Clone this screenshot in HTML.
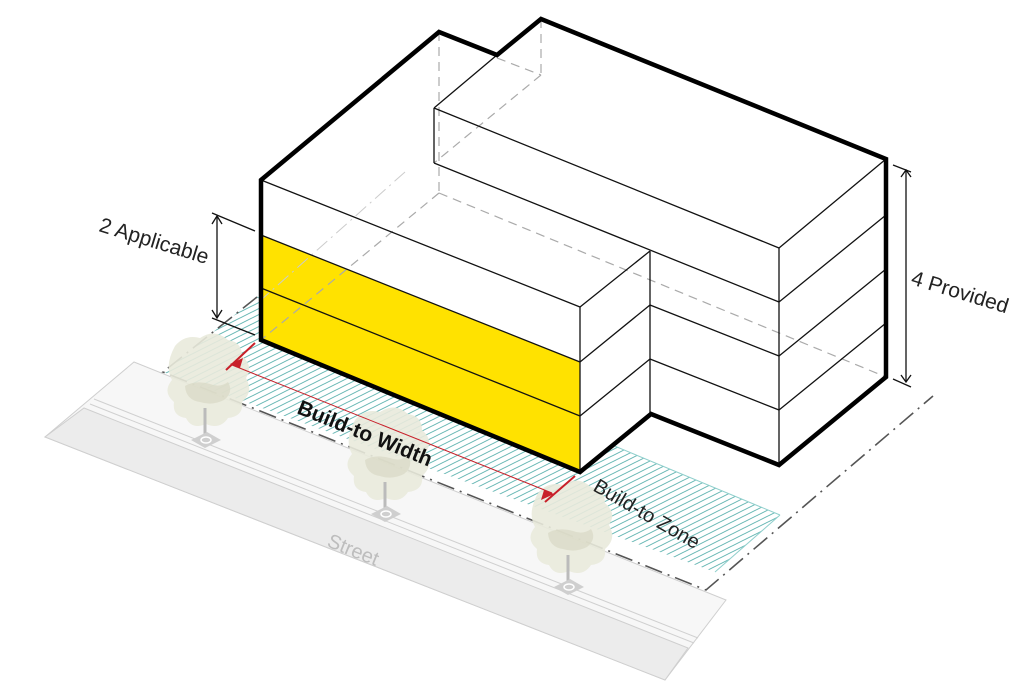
<!DOCTYPE html>
<html><head><meta charset="utf-8"><style>
html,body{margin:0;padding:0;background:#fff;width:1027px;height:690px;overflow:hidden}
svg{display:block}
text{font-family:"Liberation Sans Narrow","Liberation Sans",sans-serif}
</style></head><body>
<svg width="1027" height="690" viewBox="0 0 1027 690" xmlns="http://www.w3.org/2000/svg">
<defs>
<pattern id="h" width="12" height="6" patternUnits="userSpaceOnUse">
<rect width="12" height="6" fill="#fff"/>
<path d="M-1,6.5 L13,-0.5 M-2,1 L2,-1 M10,7 L14,5" stroke="#5fb3b0" stroke-width="1" fill="none"/>
</pattern>
<g id="tree">
<path d="M-30,-72 q10,-12 25,-8 q15,-10 28,2 q14,2 14,16 q12,10 4,22 q8,14 -4,24 q2,14 -14,16 q-8,12 -22,6 q-14,6 -20,-6 q-14,-2 -12,-16 q-12,-10 -2,-22 q-8,-14 3,-34z" fill="#e9eadc" opacity="0.9"/>
<path d="M-20,-32 q10,-6 25,-2 q10,4 18,-2 q6,10 -4,18 q-12,6 -24,2 q-14,-2 -15,-16z" fill="#d8d8c4" opacity="0.7"/>
<line x1="0" y1="-10" x2="0" y2="22" stroke="#bbb" stroke-width="3"/>
<polygon points="-14,22 2,14 16,22 0,30" fill="#cfcfcf"/>
<ellipse cx="1" cy="22" rx="5" ry="3" fill="none" stroke="#fff" stroke-width="1.5"/>
</g>
</defs>

<!-- street / sidewalk -->
<polygon points="134,362 726,600 665,680 45,437" fill="#f7f7f7" stroke="#cfcfcf" stroke-width="1"/>
<polygon points="84,408 688,648 665,680 45,437" fill="#ececec" stroke="#cfcfcf" stroke-width="1"/>
<line x1="90" y1="404" x2="694" y2="643" stroke="#d0d0d0" stroke-width="1"/>
<line x1="94" y1="399" x2="698" y2="638" stroke="#d0d0d0" stroke-width="1"/>
<text x="0" y="0" font-size="20" fill="#bdbdbd" transform="translate(326,546) rotate(22)">Street</text>

<!-- build-to zone -->
<polygon points="257,297 780,515 715,572 163,372" fill="url(#h)" opacity="0.95"/>
<line x1="257" y1="297" x2="780" y2="515" stroke="#8fcfcc" stroke-width="1"/>
<line x1="780" y1="515" x2="715" y2="572" stroke="#8fcfcc" stroke-width="1"/>

<!-- property lines dash-dot -->
<polyline points="257,297 163,372 706,590 933,396" fill="none" stroke="#555" stroke-width="1.6" stroke-dasharray="18,6,2,6"/>

<!-- trees -->
<use href="#tree" x="205" y="418"/>
<use href="#tree" x="385" y="492"/>
<use href="#tree" x="568" y="565"/>

<!-- building faces -->
<polygon points="261,235 580,362 580,472 261,340" fill="#ffe200"/>
<polygon points="261,180 580,307 580,362 261,235" fill="#fff"/>
<polygon points="580,307 650,251 650,414 580,472" fill="#fff"/>
<polygon points="650,251 779,302 779,465 650,414" fill="#fff"/>
<polygon points="779,248 886,159 886,377 779,465" fill="#fff"/>
<polygon points="261,180 439,32 497,55 434,108 434,163 650,251 580,307" fill="#fff"/>
<polygon points="434,108 541,19 886,159 779,248" fill="#fff"/>
<polygon points="434,108 779,248 779,302 434,163" fill="#fff"/>

<!-- hidden dashed -->
<g stroke="#aaa" stroke-width="1.2" stroke-dasharray="9,6" fill="none">
<line x1="439" y1="32" x2="439" y2="193"/>
<line x1="541" y1="19" x2="541" y2="75"/>
<line x1="541" y1="75" x2="434" y2="163"/>
<line x1="497" y1="58" x2="541" y2="75"/>
<line x1="439" y1="193" x2="886" y2="377"/>
<line x1="439" y1="193" x2="261" y2="340"/>
</g>
<line x1="405" y1="172" x2="261" y2="300" stroke="#ccc" stroke-width="1" stroke-dasharray="14,5,2,5"/>

<!-- thin lines -->
<g stroke="#111" stroke-width="1.3" fill="none">
<line x1="261" y1="180" x2="580" y2="307"/>
<line x1="261" y1="235" x2="580" y2="362"/>
<line x1="261" y1="288" x2="580" y2="416"/>
<line x1="580" y1="307" x2="580" y2="472"/>
<line x1="580" y1="307" x2="650" y2="251"/>
<line x1="580" y1="362" x2="650" y2="305"/>
<line x1="580" y1="416" x2="650" y2="359"/>
<line x1="650" y1="251" x2="650" y2="414"/>
<line x1="434" y1="163" x2="779" y2="302"/>
<line x1="650" y1="305" x2="779" y2="356"/>
<line x1="650" y1="359" x2="779" y2="410"/>
<line x1="434" y1="108" x2="779" y2="248"/>
<line x1="434" y1="108" x2="434" y2="163"/>
<line x1="497" y1="55" x2="434" y2="108"/>
<line x1="779" y1="248" x2="779" y2="465"/>
<line x1="779" y1="248" x2="886" y2="159"/>
<line x1="779" y1="302" x2="886" y2="215"/>
<line x1="779" y1="356" x2="886" y2="269"/>
<line x1="779" y1="410" x2="886" y2="323"/>
</g>
<!-- thick outline -->
<polygon points="261,180 439,32 497,55 541,19 886,159 886,377 779,465 651,414 580,472 261,340" fill="none" stroke="#000" stroke-width="4.5" stroke-linejoin="miter"/>

<!-- 2 Applicable dim -->
<g stroke="#111" stroke-width="1.3">
<line x1="212" y1="213" x2="255" y2="231"/>
<line x1="212" y1="318" x2="255" y2="335"/>
<line x1="217" y1="216" x2="217" y2="318"/>
</g>
<path d="M212,224 L217,216 L222,224 M212,310 L217,318 L222,310" fill="none" stroke="#111" stroke-width="1.3"/>
<text transform="translate(98,231) rotate(17)" font-size="21" fill="#222">2 Applicable</text>

<!-- 4 Provided dim -->
<g stroke="#111" stroke-width="1.3">
<line x1="893" y1="165" x2="911" y2="172"/>
<line x1="893" y1="379" x2="911" y2="387"/>
<line x1="906" y1="170" x2="906" y2="382"/>
</g>
<path d="M901,177 L906,170 L911,177 M901,375 L906,382 L911,375" fill="none" stroke="#111" stroke-width="1.3"/>
<text transform="translate(910,284) rotate(17)" font-size="21" fill="#222">4 Provided</text>

<!-- build-to width red -->
<g stroke="#c8202a">
<line x1="255" y1="343" x2="226" y2="370" stroke-width="2"/>
<line x1="575" y1="476" x2="545" y2="502" stroke-width="2"/>
<line x1="232" y1="365" x2="552" y2="493" stroke-width="1"/>
</g>
<polygon points="230,364 243,358 240,368" fill="#c8202a"/>
<polygon points="554,494 541,500 544,490" fill="#c8202a"/>
<text transform="translate(296,413) rotate(22)" font-size="21" font-weight="bold" fill="#111">Build-to Width</text>
<text transform="translate(592,490) rotate(30)" font-size="20" fill="#222">Build-to Zone</text>
</svg>
</body></html>
